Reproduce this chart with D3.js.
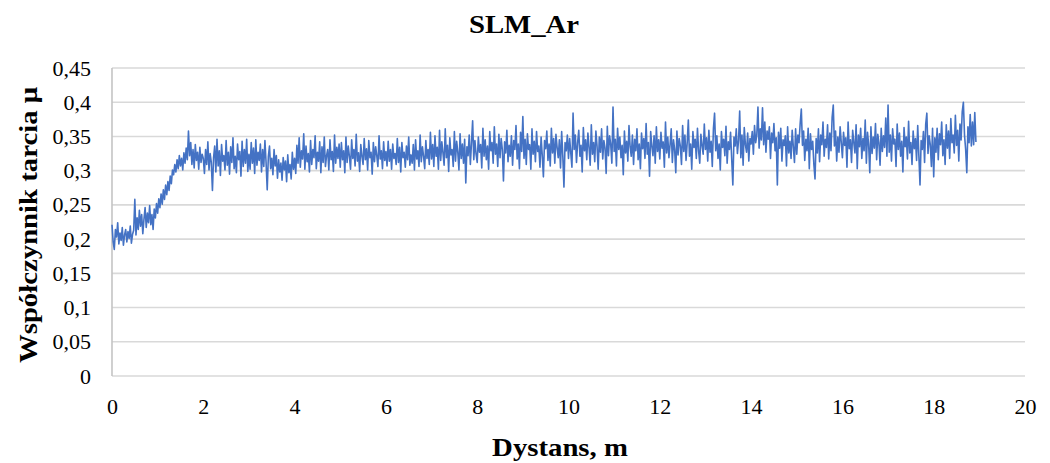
<!DOCTYPE html>
<html>
<head>
<meta charset="utf-8">
<script src="https://cdn.jsdelivr.net/npm/d3@7/dist/d3.min.js"></script>
<style>
  html, body { margin: 0; padding: 0; background: #fff; }
  svg { display: block; }
  text { font-family: "Liberation Serif", "Times New Roman", serif; fill: #000; }
</style>
</head>
<body>
<svg id="chart" width="1050" height="463"></svg>
<script>
// Friction coefficient recorded every 0.025 m of sliding distance (one row per metre)
const SAMPLE_STEP = 0.025;
const muRows = [
  [.221,.196,.185,.214,.203,.224,.193,.209,.198,.217,.191,.206,.214,.196,.211,.201,.219,.194,.207,.213,.258,.206,.231,.214,.242,.219,.236,.208,.229,.246,.217,.238,.224,.249,.221,.236,.214,.244,.231,.252],
  [.238,.259,.246,.266,.251,.272,.258,.279,.265,.284,.271,.292,.281,.301,.294,.309,.298,.316,.303,.322,.307,.318,.301,.326,.311,.333,.316,.358,.322,.341,.309,.331,.304,.338,.315,.327,.302,.334,.312,.324],
  [.318,.296,.331,.309,.342,.301,.325,.312,.271,.319,.336,.298,.346,.307,.329,.293,.338,.314,.322,.301,.344,.308,.327,.295,.335,.312,.348,.303,.321,.297,.339,.316,.328,.292,.343,.306,.331,.311,.346,.299],
  [.324,.302,.341,.311,.333,.296,.345,.308,.327,.315,.339,.298,.331,.306,.344,.312,.272,.321,.336,.303,.318,.294,.331,.307,.322,.289,.316,.298,.311,.286,.319,.301,.314,.284,.323,.297,.309,.288,.327,.302],
  [.318,.296,.337,.311,.348,.305,.329,.317,.354,.302,.336,.313,.325,.298,.344,.309,.331,.319,.351,.303,.327,.314,.342,.297,.335,.312,.349,.306,.322,.331,.301,.345,.316,.328,.299,.352,.311,.334,.318,.339],
  [.305,.341,.316,.329,.297,.349,.312,.336,.321,.302,.345,.318,.331,.307,.353,.314,.326,.299,.338,.321,.309,.347,.316,.332,.301,.344,.319,.327,.295,.341,.313,.335,.322,.306,.351,.317,.329,.303,.342,.315],
  [.328,.307,.343,.314,.331,.302,.339,.318,.325,.309,.347,.312,.334,.298,.341,.319,.327,.305,.336,.316,.349,.308,.323,.311,.338,.301,.345,.317,.329,.306,.352,.313,.335,.321,.303,.344,.318,.331,.309,.356],
  [.317,.338,.306,.351,.321,.334,.302,.359,.315,.342,.326,.308,.361,.319,.337,.299,.348,.323,.331,.306,.357,.314,.343,.327,.301,.354,.318,.339,.311,.346,.282,.335,.322,.352,.309,.341,.373,.316,.344,.324],
  [.312,.349,.327,.338,.304,.362,.321,.345,.316,.336,.302,.357,.329,.341,.311,.364,.324,.339,.306,.353,.319,.347,.331,.285,.342,.326,.359,.313,.337,.321,.351,.308,.344,.331,.366,.317,.339,.303,.356,.328],
  [.379,.318,.346,.309,.354,.331,.338,.302,.361,.324,.343,.313,.357,.328,.336,.305,.349,.322,.291,.344,.332,.358,.315,.339,.307,.362,.326,.347,.311,.353,.334,.319,.345,.304,.357,.322,.276,.341,.329,.352],
  [.318,.347,.326,.305,.384,.331,.352,.312,.341,.359,.321,.337,.298,.363,.329,.345,.316,.355,.334,.308,.367,.324,.341,.313,.358,.336,.302,.349,.327,.361,.317,.344,.333,.296,.365,.322,.351,.338,.311,.393],
  [.328,.346,.307,.362,.331,.349,.319,.337,.294,.358,.326,.343,.314,.366,.335,.321,.352,.309,.346,.329,.361,.316,.339,.303,.355,.332,.347,.318,.369,.324,.341,.292,.357,.336,.322,.351,.311,.364,.328,.345],
  [.317,.356,.333,.342,.305,.371,.326,.349,.319,.338,.361,.312,.345,.331,.297,.358,.323,.347,.336,.309,.366,.328,.352,.315,.341,.374,.321,.339,.302,.357,.334,.346,.318,.362,.329,.311,.353,.337,.324,.368],
  [.331,.348,.314,.359,.327,.343,.306,.362,.384,.329,.351,.318,.339,.301,.357,.334,.346,.322,.365,.311,.342,.331,.356,.317,.279,.349,.336,.361,.325,.344,.387,.319,.352,.308,.363,.338,.327,.355,.314,.347],
  [.339,.357,.324,.366,.341,.352,.393,.333,.361,.345,.392,.338,.371,.327,.358,.346,.364,.318,.355,.341,.369,.329,.348,.279,.356,.333,.362,.314,.345,.337,.351,.307,.364,.326,.343,.318,.359,.335,.312,.361],
  [.324,.352,.341,.369,.390,.337,.358,.315,.346,.329,.362,.303,.354,.331,.343,.309,.288,.347,.326,.361,.313,.352,.338,.371,.321,.346,.334,.367,.317,.355,.329,.378,.396,.336,.358,.314,.349,.327,.364,.341],
  [.319,.356,.337,.348,.305,.371,.332,.345,.312,.359,.341,.326,.367,.303,.352,.335,.362,.318,.347,.329,.374,.311,.356,.338,.297,.364,.325,.349,.333,.369,.316,.353,.341,.308,.362,.328,.351,.334,.377,.321],
  [.396,.327,.352,.314,.361,.339,.346,.306,.368,.331,.355,.321,.343,.298,.363,.335,.349,.317,.372,.326,.341,.309,.358,.332,.347,.315,.366,.322,.279,.344,.331,.357,.312,.368,.384,.325,.351,.338,.306,.362],
  [.291,.348,.327,.362,.316,.354,.338,.371,.322,.345,.309,.367,.333,.358,.318,.376,.341,.352,.326,.381,.337,.359,.314,.368,.345,.386,.400,.352,.331,.297,.364,.341,.382,.336,.371,.338,.385,.342]
];

const xTicks = [0, 2, 4, 6, 8, 10, 12, 14, 16, 18, 20];
const yTicks = [0, 0.05, 0.1, 0.15, 0.2, 0.25, 0.3, 0.35, 0.4, 0.45];

const chartTitle = "SLM_Ar";
const xTitle = "Dystans, m";
const yTitle = "Współczynnik tarcia μ";

const mu = muRows.flat();
const series = mu.map((v, i) => ({ d: i * SAMPLE_STEP, mu: v }));

const svg = d3.select("#chart");
const plot = { left: 112, right: 1025, top: 68, bottom: 376 };

const x = d3.scaleLinear().domain([0, 20]).range([plot.left, plot.right]);
const y = d3.scaleLinear().domain([0, 0.45]).range([plot.bottom, plot.top]);

const fmtComma = v => d3.format("~g")(+v.toFixed(2)).replace(".", ",");
const serif = '"Liberation Serif", "Times New Roman", serif';

// horizontal gridlines
svg.append("g")
  .selectAll("line")
  .data(yTicks)
  .join("line")
  .attr("x1", plot.left).attr("x2", plot.right)
  .attr("y1", d => y(d)).attr("y2", d => y(d))
  .attr("stroke", "#d9d9d9")
  .attr("stroke-width", 1.6);

// value axis line
svg.append("line")
  .attr("x1", plot.left).attr("x2", plot.left)
  .attr("y1", plot.top).attr("y2", plot.bottom)
  .attr("stroke", "#c4c4c4")
  .attr("stroke-width", 1.6);

// y axis labels
const yAxis = d3.axisLeft(y).tickValues(yTicks).tickFormat(fmtComma).tickSize(0).tickPadding(21);
const gy = svg.append("g").attr("transform", `translate(${plot.left},0)`).call(yAxis);
gy.select(".domain").remove();
gy.selectAll("text")
  .style("font-family", serif)
  .style("font-size", "22px")
  .attr("fill", "#000");

// x axis labels
const xAxis = d3.axisBottom(x).tickValues(xTicks).tickFormat(d => String(d)).tickSize(0).tickPadding(22);
const gx = svg.append("g").attr("transform", `translate(0,${plot.bottom})`).call(xAxis);
gx.select(".domain").remove();
gx.selectAll("text")
  .style("font-family", serif)
  .style("font-size", "22px")
  .attr("fill", "#000");

// friction trace
const line = d3.line().x(p => x(p.d)).y(p => y(p.mu));
svg.append("path")
  .datum(series)
  .attr("d", line)
  .attr("fill", "none")
  .attr("stroke", "#4472C4")
  .attr("stroke-width", 1.6)
  .attr("stroke-linejoin", "round");

// titles (slightly widened bold serif)
function title(tx, ty, rot, txt) {
  svg.append("text")
    .attr("transform", `translate(${tx},${ty}) rotate(${rot}) scale(1.15,1)`)
    .attr("text-anchor", "middle")
    .style("font-size", "25px").style("font-weight", "bold")
    .text(txt);
}
title(524, 33, 0, chartTitle);
title(560, 456, 0, xTitle);
title(37, 225, -90, yTitle);
</script>
</body>
</html>
